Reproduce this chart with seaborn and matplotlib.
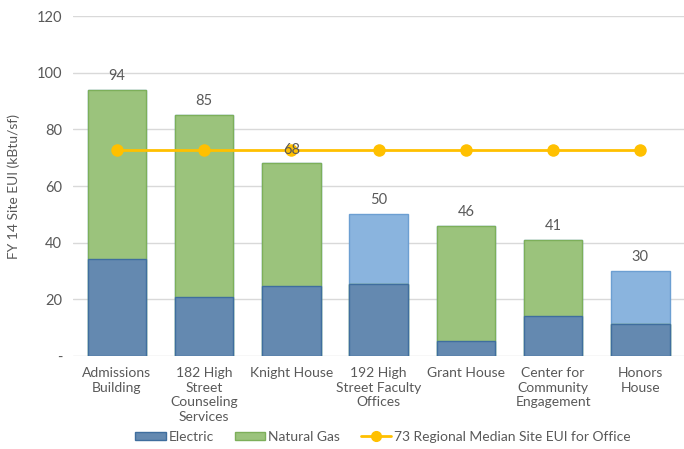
import matplotlib
matplotlib.use("Agg")
import matplotlib.pyplot as plt
import seaborn as sns
import numpy as np
import pandas as pd
from matplotlib.patches import Patch
from matplotlib.lines import Line2D

buildings = ["Admissions\nBuilding", "182 High\nStreet\nCounseling\nServices", "Knight House",
             "192 High\nStreet Faculty\nOffices", "Grant House", "Center for\nCommunity\nEngagement",
             "Honors\nHouse"]
electric = [34.1, 20.8, 24.6, 25.3, 5.4, 14.0, 11.2]
natural_gas = [59.9, 64.2, 43.4, 0.0, 40.6, 27.0, 0.0]
other = [0.0, 0.0, 0.0, 24.7, 0.0, 0.0, 18.8]
totals_label = [94, 85, 68, 50, 46, 41, 30]
median_eui = [72.7] * 7
yticks = [0, 20, 40, 60, 80, 100, 120]
ytick_labels = ["-", "20", "40", "60", "80", "100", "120"]

sns.set_theme(style="white")
plt.rcParams["font.family"] = ["Lato", "DejaVu Sans"]

txt = "#595959"
fs = 10
c_el, e_el = "#6489B0", "#3F6E9E"
c_ng, e_ng = "#9BC37C", "#7DAF5A"
c_ot, e_ot = "#8AB4DE", "#6C9FD2"

df = pd.DataFrame({"b": buildings, "el": electric, "ng": natural_gas, "ot": other})
df["lvl2"] = df["el"] + df["ng"]
df["lvl3"] = df["el"] + df["ng"] + df["ot"]

fig = plt.figure(figsize=(6.84, 4.49), dpi=100)
ax = fig.add_axes([0.107, 0.207, 0.893, 0.757])

for y in yticks:
    ax.axhline(y, color="#D9D9D9", lw=1, zorder=0)

w = 0.67
sns.barplot(data=df, x="b", y="lvl3", color=c_ot, edgecolor=e_ot, linewidth=1, width=w,
            saturation=1, ax=ax, zorder=2)
sns.barplot(data=df, x="b", y="lvl2", color=c_ng, edgecolor=e_ng, linewidth=1, width=w,
            saturation=1, ax=ax, zorder=2)
sns.barplot(data=df, x="b", y="el", color=c_el, edgecolor=e_el, linewidth=1, width=w,
            saturation=1, ax=ax, zorder=2)

labels = ax.bar_label(ax.containers[0], labels=[str(v) for v in totals_label], padding=5,
                      fontsize=fs + 0.5, color=txt)
for t in labels:
    t.set_zorder(6)

sns.lineplot(x=np.arange(len(buildings)), y=median_eui, color="#FFC000", lw=2,
             marker="o", markersize=9, markeredgewidth=0, ax=ax, zorder=3)

ax.set_ylim(0, 120)
ax.set_xlim(-0.5, len(buildings) - 0.5)
ax.set_yticks(yticks)
ax.set_yticklabels(ytick_labels, fontsize=fs + 0.5, color=txt)
ax.set_xticks(range(len(buildings)))
ax.set_xticklabels(buildings, fontsize=fs, color=txt, linespacing=1.25, va="top")
ax.tick_params(axis="both", length=0, pad=8)
ax.set_xlabel("")
ax.set_ylabel("FY 14 Site EUI (kBtu/sf)", fontsize=fs, color=txt, labelpad=12)
for s in ax.spines.values():
    s.set_visible(False)

handles = [Patch(facecolor=c_el, edgecolor=e_el),
           Patch(facecolor=c_ng, edgecolor=e_ng),
           Line2D([0], [0], color="#FFC000", lw=2, marker="o", markersize=7)]
fig.legend(handles, ["Electric", "Natural Gas", "73 Regional Median Site EUI for Office"],
           loc="center", bbox_to_anchor=(0.56, 0.027), ncol=3, frameon=False,
           fontsize=fs, labelcolor=txt, handlelength=2.2, handletextpad=0.2,
           columnspacing=1.5, handleheight=0.6)

fig.savefig("out.png", dpi=100)
